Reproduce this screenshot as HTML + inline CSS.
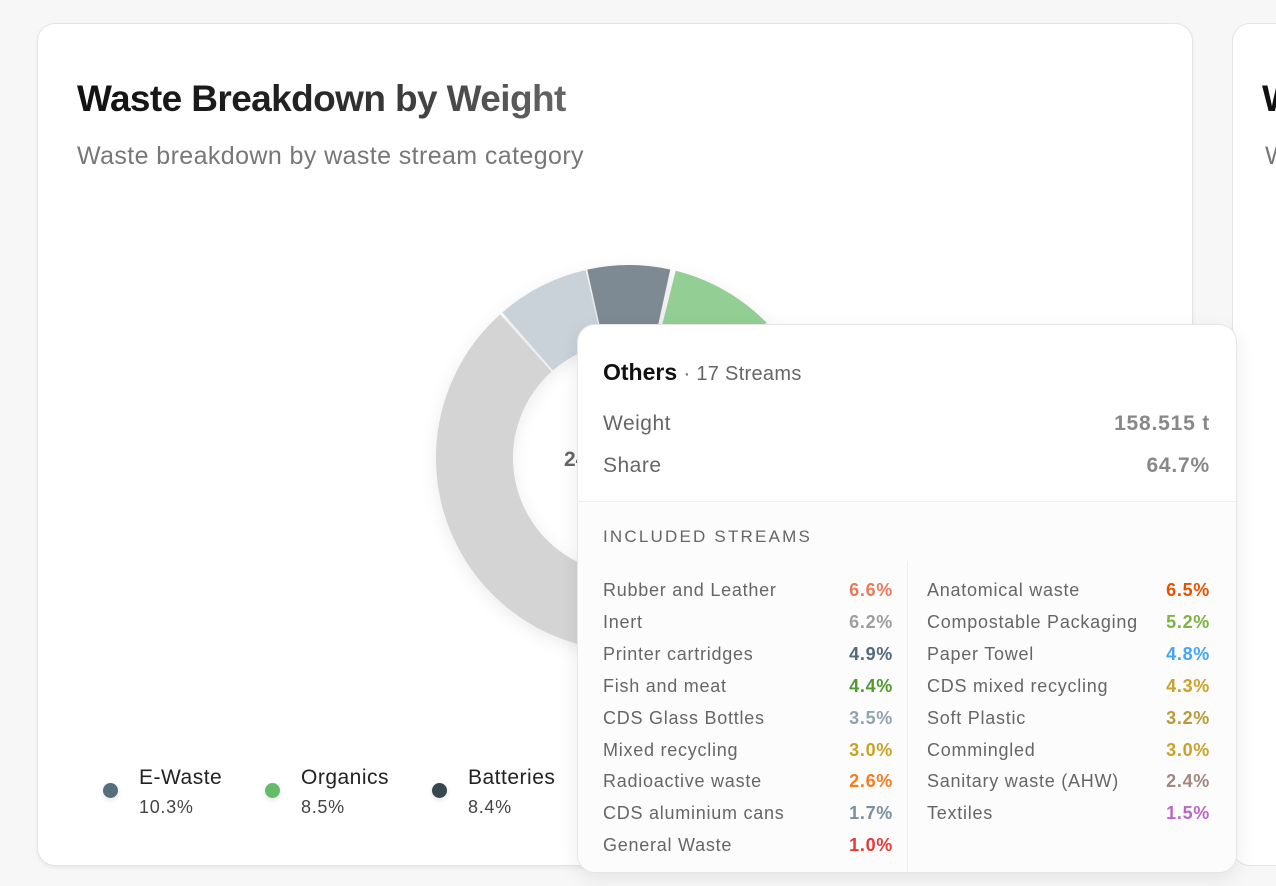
<!DOCTYPE html>
<html><head><meta charset="utf-8"><style>
*{margin:0;padding:0;box-sizing:border-box}
body{width:1276px;height:886px;background:#f7f7f8;font-family:"Liberation Sans",sans-serif;position:relative;overflow:hidden}
.card{position:absolute;left:37px;top:23px;width:1156px;height:843px;background:#fff;border:1px solid #e4e4e6;border-radius:18px;box-shadow:0 2px 4px rgba(0,0,0,.06)}
.card2{position:absolute;left:1232px;top:23px;width:100px;height:843px;background:#fff;border:1px solid #e4e4e6;border-radius:18px}
h1{position:absolute;left:77px;top:78px;font-size:37px;font-weight:bold;letter-spacing:-0.6px;background:linear-gradient(90deg,#111 0%,#222 45%,#666 100%);-webkit-background-clip:text;color:transparent;width:490px;white-space:nowrap}
.sub{position:absolute;left:77px;top:142px;font-size:25px;color:#777;letter-spacing:.4px}
.leg{position:absolute;top:766px}
.leg .dot{position:absolute;left:0;top:17px;width:15px;height:15px;border-radius:50%;box-shadow:0 2px 6px rgba(0,0,0,.12)}
.leg .n{position:absolute;left:36px;top:0;font-size:21px;color:#222;white-space:nowrap;letter-spacing:.5px}
.leg .p{position:absolute;left:36px;top:31px;font-size:18px;color:#444;letter-spacing:.7px}
.tip{position:absolute;left:577px;top:324px;width:660px;height:549px;background:#fff;border:1px solid #e6e6e6;border-radius:18px;box-shadow:0 6px 20px rgba(0,0,0,.08);overflow:hidden}
.low{position:absolute;left:0;top:176px;width:100%;height:373px;background:#fcfcfc;border-top:1px solid #eee}
.t{position:absolute;white-space:nowrap}
.row{position:absolute;font-size:18px;color:#666;letter-spacing:.75px;white-space:nowrap}
.v{position:absolute;font-size:18px;font-weight:bold;text-align:right;letter-spacing:.7px}
</style></head><body>
<div class="card"></div><div class="card2"></div>
<div style="position:absolute;left:1262px;top:78px;font-size:37px;font-weight:bold;color:#111">W</div>
<div style="position:absolute;left:1265px;top:142px;font-size:25px;color:#777">W</div>
<h1>Waste Breakdown by Weight</h1>
<div class="sub">Waste breakdown by waste stream category</div>
<svg style="position:absolute;left:0;top:0" width="1276" height="886">
<defs><filter id="sh" x="-20%" y="-20%" width="140%" height="140%"><feDropShadow dx="0" dy="4" stdDeviation="8" flood-color="#000" flood-opacity="0.08"/></filter></defs>
<g transform="translate(629,458)" fill="none" stroke-width="77" filter="url(#sh)">
<circle r="154.5" stroke="#d4d4d4" stroke-dasharray="628.3 2000" transform="rotate(-5)"/>
<circle r="154.5" stroke="#c9d2d9" stroke-dasharray="75.5 2000" transform="rotate(-131)"/>
<circle r="154.5" stroke="#7d8a93" stroke-dasharray="67 2000" transform="rotate(-102.5)"/>
<circle r="154.5" stroke="#93cf95" stroke-dasharray="85 2000" transform="rotate(-76)"/>
<circle r="154.5" stroke="#aebcc6" stroke-dasharray="97.1 2000" transform="rotate(-42)"/>
</g>
<text x="564" y="466" font-size="21" font-weight="bold" fill="#666" font-family="Liberation Sans">245 t</text>
</svg>
<div class="leg" style="left:103px"><div class="dot" style="background:#546e7a"></div><div class="n">E-Waste</div><div class="p">10.3%</div></div>
<div class="leg" style="left:265px"><div class="dot" style="background:#66bb6a"></div><div class="n">Organics</div><div class="p">8.5%</div></div>
<div class="leg" style="left:432px"><div class="dot" style="background:#37474f"></div><div class="n">Batteries</div><div class="p">8.4%</div></div>
<div class="tip">
<div class="t" style="left:25px;top:34px;font-size:23px;font-weight:bold;color:#111">Others <span style="font-size:20px;font-weight:normal;color:#666;letter-spacing:.3px">· 17 Streams</span></div>
<div class="t" style="left:25px;top:87px;font-size:21px;color:#666;letter-spacing:.5px">Weight</div>
<div class="t" style="right:26px;top:87px;font-size:21px;color:#888;font-weight:bold;letter-spacing:.8px">158.515 t</div>
<div class="t" style="left:25px;top:129px;font-size:21px;color:#666;letter-spacing:.5px">Share</div>
<div class="t" style="right:26px;top:129px;font-size:21px;color:#888;font-weight:bold;letter-spacing:.8px">64.7%</div>
<div class="low">
<div class="t" style="left:25px;top:25px;font-size:17px;color:#666;letter-spacing:2.2px">INCLUDED STREAMS</div>
<div style="position:absolute;left:329px;top:60px;width:1px;height:320px;background:#eee"></div>
</div>
<div id="rows"></div>
</div>
<script>
var L=[["Rubber and Leather","6.6%","#e8795c"],["Inert","6.2%","#9e9e9e"],["Printer cartridges","4.9%","#4f6a7a"],["Fish and meat","4.4%","#4e9a2e"],["CDS Glass Bottles","3.5%","#90a4ae"],["Mixed recycling","3.0%","#c9a227"],["Radioactive waste","2.6%","#f57c1f"],["CDS aluminium cans","1.7%","#78909c"],["General Waste","1.0%","#e53935"]];
var R=[["Anatomical waste","6.5%","#e65100"],["Compostable Packaging","5.2%","#7cb342"],["Paper Towel","4.8%","#42a5f5"],["CDS mixed recycling","4.3%","#c9a227"],["Soft Plastic","3.2%","#b89a3a"],["Commingled","3.0%","#c9a227"],["Sanitary waste (AHW)","2.4%","#a1887f"],["Textiles","1.5%","#ba68c8"]];
var h="";function add(a,x,vr){a.forEach(function(r,i){var y=255+i*31.9;h+='<div class="row" style="left:'+x+'px;top:'+y+'px">'+r[0]+'</div><div class="v" style="right:'+vr+'px;top:'+y+'px;color:'+r[2]+'">'+r[1]+'</div>';});}
add(L,25,343);add(R,349,26);document.getElementById("rows").innerHTML=h;
</script>
</body></html>
